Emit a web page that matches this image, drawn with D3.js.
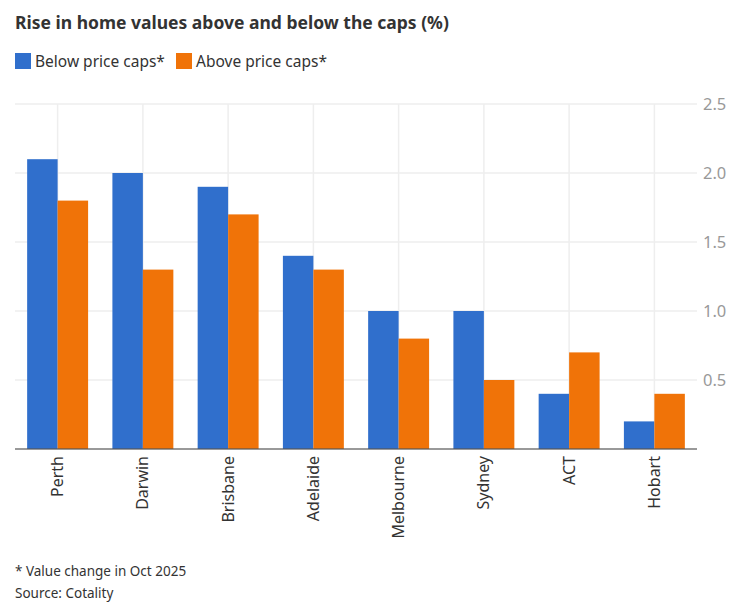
<!DOCTYPE html>
<html>
<head>
<meta charset="utf-8">
<script src="https://cdn.jsdelivr.net/npm/d3@7"></script>
<style>
  body { margin: 0; background: #fff; }
  text { font-family: "Noto Sans", "Open Sans", sans-serif; }
</style>
</head>
<body>
<div id="chart"></div>
<script>
// Data
const cities = ["Perth", "Darwin", "Brisbane", "Adelaide", "Melbourne", "Sydney", "ACT", "Hobart"];
const below = [2.1, 2.0, 1.9, 1.4, 1.0, 1.0, 0.4, 0.2];
const above = [1.8, 1.3, 1.7, 1.3, 0.8, 0.5, 0.7, 0.4];
const seriesNames = ["Below price caps*", "Above price caps*"];
const yTicks = [0.5, 1.0, 1.5, 2.0, 2.5];

const colors = ["#306fcc", "#f07308"];
const W = 742, H = 612;
const plotLeft = 15, plotRight = 697, plotTop = 104, plotBottom = 449;

const svg = d3.select("#chart").append("svg")
    .attr("width", W)
    .attr("height", H);

// title
svg.append("text")
    .attr("x", 15).attr("y", 29)
    .attr("font-size", 17.5).attr("font-weight", "bold")
    .attr("fill", "#333")
    .text("Rise in home values above and below the caps (%)");

// legend
const legendX = [15, 176];
seriesNames.forEach((name, i) => {
    svg.append("rect")
        .attr("x", legendX[i]).attr("y", 53)
        .attr("width", 16).attr("height", 16)
        .attr("fill", colors[i]);
    svg.append("text")
        .attr("x", legendX[i] + 20).attr("y", 67)
        .attr("font-size", 15.5).attr("fill", "#333")
        .text(name);
});

// scales
const x0 = d3.scaleBand()
    .domain(cities)
    .range([plotLeft, plotRight])
    .paddingInner(0.285)
    .paddingOuter(0.1425);

const x1 = d3.scaleBand()
    .domain([0, 1])
    .range([0, x0.bandwidth()]);

const y = d3.scaleLinear()
    .domain([0, 2.5])
    .range([plotBottom, plotTop]);

// horizontal gridlines
svg.append("g").selectAll("line")
    .data(yTicks)
    .enter().append("line")
    .attr("x1", plotLeft).attr("x2", plotRight)
    .attr("y1", d => y(d)).attr("y2", d => y(d))
    .attr("stroke", "#eeeeee").attr("stroke-width", 1.5);

// vertical gridlines at category centres
svg.append("g").selectAll("line")
    .data(cities)
    .enter().append("line")
    .attr("x1", d => x0(d) + x0.bandwidth() / 2)
    .attr("x2", d => x0(d) + x0.bandwidth() / 2)
    .attr("y1", y(2.5)).attr("y2", plotBottom)
    .attr("stroke", "#eeeeee").attr("stroke-width", 1.5);

// y axis labels on the right
const yAxis = d3.axisRight(y).tickValues(yTicks).tickFormat(d3.format(".1f")).tickSize(0).tickPadding(6);
const yg = svg.append("g")
    .attr("transform", `translate(${plotRight},0)`)
    .call(yAxis);
yg.select(".domain").remove();
yg.selectAll("text")
    .attr("font-size", 16.5)
    .attr("fill", "#999")
    .style("font-family", "\"Noto Sans\", sans-serif");

// bars
const groups = svg.append("g").selectAll("g")
    .data(cities)
    .enter().append("g")
    .attr("transform", d => `translate(${x0(d)},0)`);

groups.selectAll("rect")
    .data((d, i) => [below[i], above[i]])
    .enter().append("rect")
    .attr("x", (d, j) => x1(j))
    .attr("width", x1.bandwidth())
    .attr("y", d => y(d))
    .attr("height", d => plotBottom - y(d))
    .attr("fill", (d, j) => colors[j]);

// baseline
svg.append("line")
    .attr("x1", plotLeft).attr("x2", plotRight)
    .attr("y1", plotBottom).attr("y2", plotBottom)
    .attr("stroke", "#555").attr("stroke-opacity", 0.6).attr("stroke-width", 2);

// x labels
const xAxis = d3.axisBottom(x0).tickSize(0).tickPadding(0);
const xg = svg.append("g")
    .attr("transform", `translate(0,${plotBottom})`)
    .call(xAxis);
xg.select(".domain").remove();
xg.selectAll("text")
    .attr("transform", "rotate(-90)")
    .attr("text-anchor", "end")
    .attr("x", -7)
    .attr("y", 0)
    .attr("dy", "0.35em")
    .attr("font-size", 16)
    .attr("fill", "#333")
    .style("font-family", "\"Noto Sans\", sans-serif");

// footnotes
svg.append("text")
    .attr("x", 15).attr("y", 576)
    .attr("font-size", 13.5).attr("fill", "#333")
    .text("* Value change in Oct 2025");
svg.append("text")
    .attr("x", 15).attr("y", 598)
    .attr("font-size", 13.5).attr("fill", "#333")
    .text("Source: Cotality");
</script>
</body>
</html>
